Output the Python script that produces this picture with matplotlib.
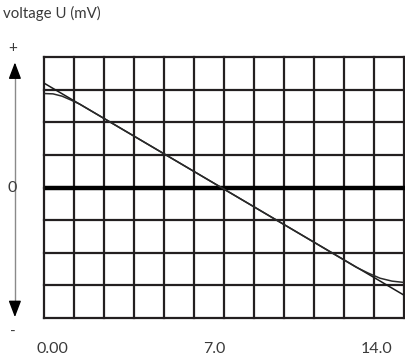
import matplotlib
matplotlib.use("Agg")
import matplotlib.pyplot as plt

# Straight reference line (grid units: 12 columns x 8 rows)
line_x = [0, 12]
line_y = [3.2, -3.3]

# Measured curve, flattens at both ends
curve_x = [0, 0.3, 0.6, 0.9, 1.2, 6.0, 10.4, 10.8, 11.2, 11.6, 12.0]
curve_y = [2.88, 2.87, 2.80, 2.68, 2.55, -0.05, -2.44, -2.62, -2.78, -2.87, -2.91]

tick_labels = ["0.00", "7.0", "14.0"]
ylabel_text = "voltage U (mV)"

plt.rcParams["font.family"] = ["Lato", "DejaVu Sans"]
TEXT_COLOR = "#3a3a3a"
GRID_COLOR = "#231f20"

fig = plt.figure(figsize=(4.06, 3.60), dpi=100)
ax = fig.add_axes([44 / 406, 42 / 360, 360 / 406, 261 / 360])
ax.set_xlim(0, 12)
ax.set_ylim(-4, 4)
ax.axis("off")

# grid
for gx in range(13):
    ax.plot([gx, gx], [-4, 4], color=GRID_COLOR, lw=1.6, clip_on=False, solid_capstyle="projecting")
for gy in range(-4, 5):
    ax.plot([0, 12], [gy, gy], color=GRID_COLOR, lw=1.6, clip_on=False, solid_capstyle="projecting")

# zero line
ax.plot([0.1, 12], [0, 0], color="black", lw=3.2, zorder=3, clip_on=False)

# data
ax.plot(line_x, line_y, color="#1a1a1a", lw=1.1, zorder=4)
ax.plot(curve_x, curve_y, color="#2a2a2a", lw=1.1, zorder=4)

# vertical double arrow at left
arr_x = -0.97
ax.plot([arr_x, arr_x], [-3.7, 3.6], color="#8a8a8a", lw=1.0, clip_on=False)
ax.annotate("", xy=(arr_x, 3.92), xytext=(arr_x, 3.4), annotation_clip=False,
            arrowprops=dict(arrowstyle="-|>,head_length=1.0,head_width=0.38", color="black", lw=1.0))
ax.annotate("", xy=(arr_x, -4.06), xytext=(arr_x, -3.55), annotation_clip=False,
            arrowprops=dict(arrowstyle="-|>,head_length=1.0,head_width=0.38", color="black", lw=1.0))

fig.text(13 / 406, 1 - 48 / 360, "+", ha="center", va="center", fontsize=11, color=TEXT_COLOR)
fig.text(12 / 406, 1 - 188 / 360, "0", ha="center", va="center", fontsize=11.5, color=TEXT_COLOR)
fig.text(13 / 406, 1 - 332 / 360, "-", ha="center", va="center", fontsize=11, color=TEXT_COLOR)
fig.text(3 / 406, 1 - 13 / 360, ylabel_text, ha="left", va="center", fontsize=10.8, color=TEXT_COLOR)

# x tick labels
label_px = [52.5, 214.7, 376.7]
for px, lab in zip(label_px, tick_labels):
    fig.text(px / 406, 1 - 349 / 360, lab, ha="center", va="center", fontsize=11.5, color=TEXT_COLOR)

fig.savefig("out.png", dpi=100)
